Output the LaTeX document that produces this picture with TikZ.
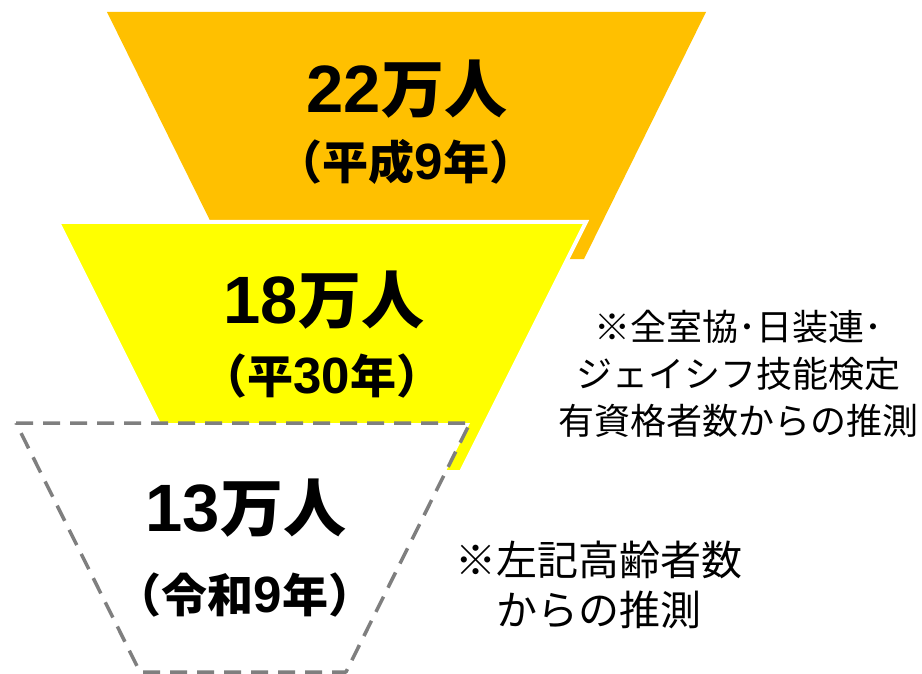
\documentclass[tikz,border=0pt]{standalone}
\usepackage{fontspec}
\newfontfamily\jp{Noto Sans CJK JP}
\newfontfamily\lsans{Liberation Sans}
\newcommand{\bigdg}[1]{{\lsans\bfseries\fontsize{67}{67}\selectfont #1}}
\newcommand{\yrdg}[1]{{\lsans\bfseries\fontsize{51}{51}\selectfont #1}}
\definecolor{orng}{HTML}{FFC000}
\definecolor{ylw}{HTML}{FFFF00}
\definecolor{dgray}{HTML}{7F7F7F}
\tikzset{
  big/.style={font=\jp\bfseries\fontsize{63}{63}\selectfont, inner sep=0pt, anchor=center},
  year/.style={font=\jp\bfseries\fontsize{46}{46}\selectfont, inner sep=0pt, anchor=center},
  noteA/.style={font=\jp\fontsize{36}{47}\selectfont, inner sep=0pt, align=center, anchor=center},
  noteB/.style={font=\jp\fontsize{41}{50}\selectfont, inner sep=0pt, align=center, anchor=center},
}
\begin{document}
\begin{tikzpicture}[x=1pt,y=-1pt]
\useasboundingbox (0,0) rectangle (922,674);
% orange funnel
\fill[orng] (107,12) -- (706,12) -- (584,259) -- (229,259) -- cycle;
% yellow funnel with white border
\filldraw[fill=ylw, draw=white, line width=4pt, line join=miter] (58,222) -- (586,222) -- (461,472) -- (183,472) -- cycle;
% dashed funnel
\filldraw[fill=white, draw=dgray, line width=3.5pt, dash pattern=on 17pt off 10pt, line join=round] (16,423) -- (470,423) -- (346,672) -- (140,672) -- cycle;
% labels
\node[big] (n22) at (407,89) {\bigdg{22}万人};
\node[year] (y22) at (406,162) {（平成\yrdg{9}年）};
\node[big] (n18) at (324,300) {\bigdg{18}万人};
\node[year] (y18) at (322,376) {（平\yrdg{30}年）};
\node[big] (n13) at (246,508) {\bigdg{13}万人};
\node[year] (y13) at (245,595) {（令和\yrdg{9}年）};
% notes
\node[noteA] (noteA) at (738,374) {※全室協･日装連･\\ジェイシフ技能検定\\有資格者数からの推測};
\node[noteB] (noteB) at (599,585) {※左記高齢者数\\からの推測};
\end{tikzpicture}
\end{document}
